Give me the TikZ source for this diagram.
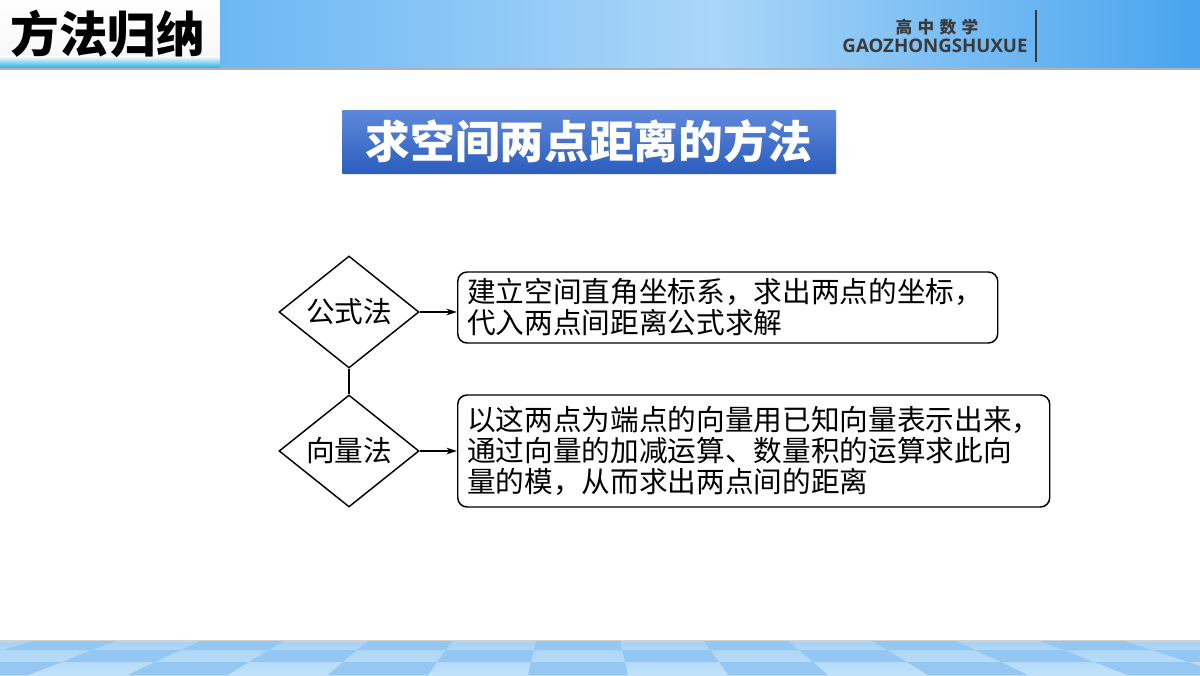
\documentclass[tikz,border=0pt]{standalone}
\usepackage{fontspec}
\newfontfamily\cjk{Noto Sans CJK SC}
\newfontfamily\latinsans{Open Sans}
\usetikzlibrary{arrows.meta,shapes.geometric,shadows}

\definecolor{bandleft}{RGB}{108,184,244}
\definecolor{bandmid}{RGB}{170,214,248}
\definecolor{bandright}{RGB}{72,164,238}
\definecolor{edgecyan}{RGB}{40,172,228}
\definecolor{titletop}{RGB}{94,136,218}
\definecolor{titlebot}{RGB}{44,94,190}
\definecolor{floorlight}{RGB}{192,226,250}
\definecolor{floortop}{RGB}{168,210,245}
\definecolor{floordark}{RGB}{148,199,242}
\definecolor{headgray}{RGB}{58,58,58}

\begin{document}
\begin{tikzpicture}[x=0.75pt,y=0.75pt,yscale=-1,xscale=1,
  decision/.style={diamond,draw,line width=1.1pt,aspect=1.25,minimum width=105pt,minimum height=84pt,inner sep=1pt,font=\cjk\fontsize{21.5}{25}\selectfont},
  descbox/.style={draw,rounded corners=7pt,line width=1.1pt,anchor=west,align=left,inner xsep=7pt,font=\cjk\fontsize{21.5}{23.25}\selectfont},
  flowarrow/.style={line width=0.9pt,-{Stealth[length=8pt,width=5pt]}},
  tile/.style={fill=floordark}]
\useasboundingbox (0,0) rectangle (1200,675);

%Shape: Header
\shade [top color=white,bottom color=gray!6] (0,0) rectangle (220,56);
\shade [top color=white,bottom color=edgecyan] (0,56) rectangle (220,68);
\shade [left color=bandleft,right color=bandright,middle color=bandmid] (220,0) rectangle (1200,68);
\draw [gray!60,line width=1.5pt] (0,68.5) -- (1200,68.5);

% Text Node
\node (head) at (108,34) [font=\cjk\bfseries\fontsize{36.5}{40}\selectfont] {方法归纳};
% Text Node
\node (subject) at (937,27) [font=\cjk\bfseries\fontsize{12.5}{14}\selectfont,text=headgray] {高\hspace{4pt}中\hspace{4pt}数\hspace{4pt}学};
% Text Node
\node (pinyin) at (935,46) [font=\latinsans\bfseries\fontsize{14}{16}\selectfont,text=headgray] {GAOZHONGSHUXUE};
%Straight Lines
\coordinate (bartop) at (1036,10);
\coordinate (barbot) at (1036,62);
\draw [headgray,line width=1.6pt] (bartop) -- (barbot);

%Shape: Title
\node (title) at (589,141.5) [minimum width=370pt,minimum height=47.25pt,top color=titletop,bottom color=titlebot,drop shadow={opacity=0.18,shadow xshift=1pt,shadow yshift=-1.5pt},text=white,font=\cjk\bfseries\fontsize{33.5}{36}\selectfont] {求空间两点距离的方法};

%Shape: Diamond
\node (formula) at (349,312) [decision] {公式法};
%Shape: Diamond
\node (vector) at (349,451) [decision] {向量法};
%Shape: Rectangle
\node (formulatext) at (457,307.5) [descbox,text width=391pt,minimum height=53.25pt] {建立空间直角坐标系，求出两点的坐标，\\代入两点间距离公式求解};
%Shape: Rectangle
\node (vectortext) at (457,451) [descbox,text width=430pt,minimum height=84pt] {以这两点为端点的向量用已知向量表示出来，\\通过向量的加减运算、数量积的运算求此向\\量的模，从而求出两点间的距离};

%Straight Lines
\draw [line width=1.1pt] (formula.south) -- (vector.north);
\draw [flowarrow] (formula.east) -- (formula.east -| formulatext.west);
\draw [flowarrow] (vector.east) -- (vector.east -| vectortext.west);

%Shape: Floor
\shade [top color=floortop,bottom color=floorlight] (0,641) rectangle (1200,675);
\draw [gray!35,line width=0.8pt] (0,641) -- (1200,641);
% top row
\fill [tile] (32,641) -- (116,641) -- (92,650) -- (4,650) -- cycle;
\fill [tile] (200,641) -- (284,641) -- (269,650) -- (181,650) -- cycle;
\fill [tile] (368,641) -- (452,641) -- (446,650) -- (357,650) -- cycle;
\fill [tile] (536,641) -- (620,641) -- (622,650) -- (534,650) -- cycle;
\fill [tile] (704,641) -- (788,641) -- (799,650) -- (710,650) -- cycle;
\fill [tile] (872,641) -- (956,641) -- (975,650) -- (887,650) -- cycle;
\fill [tile] (1040,641) -- (1124,641) -- (1152,650) -- (1064,650) -- cycle;
% middle row
\fill [tile] (92,650) -- (181,650) -- (155,662) -- (62,662) -- cycle;
\fill [tile] (269,650) -- (357,650) -- (343,662) -- (249,662) -- cycle;
\fill [tile] (446,650) -- (534,650) -- (531,662) -- (437,662) -- cycle;
\fill [tile] (622,650) -- (710,650) -- (719,662) -- (625,662) -- cycle;
\fill [tile] (799,650) -- (887,650) -- (907,662) -- (813,662) -- cycle;
\fill [tile] (975,650) -- (1064,650) -- (1094,662) -- (1001,662) -- cycle;
\fill [tile] (1152,650) -- (1240,650) -- (1282,662) -- (1188,662) -- cycle;
% bottom row
\fill [tile] (-32,662) -- (62,662) -- (28,675) -- (-72,675) -- cycle;
\fill [tile] (155,662) -- (249,662) -- (228,675) -- (128,675) -- cycle;
\fill [tile] (343,662) -- (437,662) -- (428,675) -- (328,675) -- cycle;
\fill [tile] (531,662) -- (625,662) -- (628,675) -- (528,675) -- cycle;
\fill [tile] (719,662) -- (813,662) -- (828,675) -- (728,675) -- cycle;
\fill [tile] (907,662) -- (1001,662) -- (1028,675) -- (928,675) -- cycle;
\fill [tile] (1094,662) -- (1188,662) -- (1228,675) -- (1128,675) -- cycle;

\end{tikzpicture}
\end{document}
